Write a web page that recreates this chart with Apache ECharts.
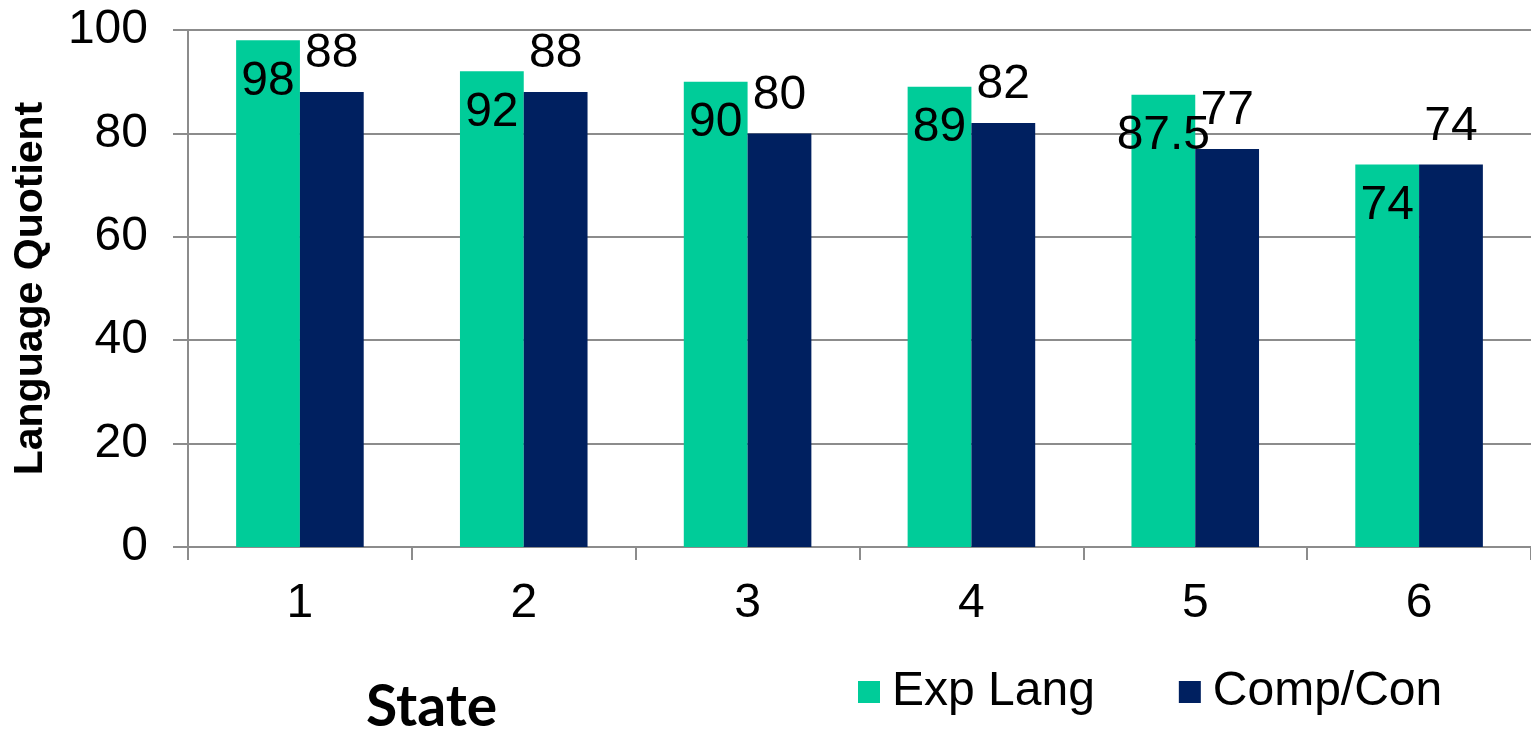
<!DOCTYPE html>
<html>
<head>
<meta charset="utf-8">
<title>Language Quotient by State</title>
<script src="https://cdn.jsdelivr.net/npm/echarts@6/dist/echarts.min.js"></script>
<style>
  html, body { margin: 0; padding: 0; background: #ffffff; }
  #chart { width: 1531px; height: 732px; }
</style>
</head>
<body>
<div id="chart"></div>
<script>
// Data
const states = ['1', '2', '3', '4', '5', '6'];
const expLang = [98, 92, 90, 89, 87.5, 74];
const compCon = [88, 88, 80, 82, 77, 74];
const seriesNames = ['Exp Lang', 'Comp/Con'];

const GREEN = '#00CC99';
const NAVY = '#002060';
const AXIS_GRAY = '#8C8C8C';
const FONT = '"Liberation Sans", Arial, sans-serif';

const chart = echarts.init(document.getElementById('chart'), null, { renderer: 'canvas' });

chart.setOption({
  animation: false,
  backgroundColor: '#ffffff',
  grid: { left: 188, right: 0, top: 30, bottom: 185, containLabel: false, outerBoundsMode: 'none' },
  legend: {
    data: seriesNames,
    left: 853,
    top: 663,
    icon: 'rect',
    itemWidth: 22,
    itemHeight: 22,
    itemGap: 84,
    textStyle: { fontFamily: FONT, fontSize: 48, color: '#000', padding: [0, 0, 0, 7] }
  },
  xAxis: {
    type: 'category',
    data: states,
    axisLine: { lineStyle: { color: AXIS_GRAY, width: 2 } },
    axisTick: { show: true, alignWithLabel: false, length: 13, lineStyle: { color: AXIS_GRAY, width: 2 } },
    axisLabel: { fontFamily: FONT, fontSize: 48, color: '#000', margin: 33 },
    splitLine: { show: false }
  },
  yAxis: {
    type: 'value',
    min: 0,
    max: 100,
    interval: 20,
    name: 'Language Quotient',
    nameLocation: 'middle',
    nameGap: 137,
    nameTextStyle: { fontFamily: FONT, fontWeight: 'bold', fontSize: 41, color: '#000' },
    axisLine: { show: true, lineStyle: { color: AXIS_GRAY, width: 2 } },
    axisTick: { show: true, length: 15, lineStyle: { color: AXIS_GRAY, width: 2 } },
    axisLabel: { fontFamily: FONT, fontSize: 48, color: '#000', margin: 40 },
    splitLine: { show: true, lineStyle: { color: AXIS_GRAY, width: 2 } }
  },
  graphic: [{
    type: 'text',
    left: 366,
    top: 679,
    style: { text: 'State', font: 'bold 57px Lato, "Open Sans", sans-serif', fill: '#000' }
  }],
  series: [
    {
      name: seriesNames[0],
      type: 'bar',
      data: expLang,
      barGap: '0%',
      barCategoryGap: '43%',
      itemStyle: { color: GREEN },
      label: {
        show: true,
        position: 'insideTop',
        distance: 17,
        fontFamily: FONT,
        fontSize: 48,
        color: '#000'
      }
    },
    {
      name: seriesNames[1],
      type: 'bar',
      data: compCon,
      barGap: '0%',
      barCategoryGap: '43%',
      itemStyle: { color: NAVY },
      label: {
        show: true,
        position: 'top',
        distance: 14,
        fontFamily: FONT,
        fontSize: 48,
        color: '#000'
      }
    }
  ]
});
</script>
</body>
</html>
